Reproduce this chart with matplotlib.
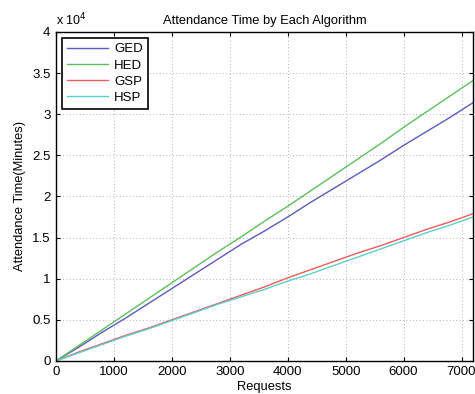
import matplotlib
matplotlib.use('Agg')
import matplotlib.pyplot as plt
from matplotlib.ticker import FuncFormatter

plt.rcParams['font.family'] = ['Liberation Sans', 'DejaVu Sans']

# data (attendance time in minutes)
requests = [0, 400, 800, 1200, 1600, 2000, 2400, 2800, 3200, 3600,
            4000, 4400, 4800, 5200, 5600, 6000, 6400, 6800, 7200]
ged = [0, 1700, 3500, 5200, 7000, 8800, 10600, 12400, 14200, 15800,
       17500, 19300, 21000, 22700, 24400, 26200, 27900, 29600, 31400]
hed = [0, 1900, 3800, 5700, 7600, 9500, 11400, 13300, 15100, 17000,
       18800, 20700, 22600, 24500, 26400, 28400, 30300, 32200, 34100]
gsp = [0, 1100, 2100, 3100, 4000, 5000, 6000, 7000, 8000, 9000,
       10100, 11100, 12100, 13100, 14000, 15000, 16000, 16900, 17900]
hsp = [0, 1000, 2000, 3000, 3900, 4900, 5900, 6900, 7800, 8700,
       9700, 10600, 11600, 12600, 13600, 14600, 15600, 16500, 17500]

series = [('GED', ged, '#5a5abf'), ('HED', hed, '#5cbf5c'),
          ('GSP', gsp, '#ef5a5a'), ('HSP', hsp, '#5ccfcf')]

fig = plt.figure(figsize=(4.75, 3.94), dpi=100)
ax = fig.add_axes([0.118, 0.084, 0.878, 0.835])

for name, vals, col in series:
    ax.plot(requests, vals, color=col, lw=1.0, label=name)

ax.set_xlim(0, 7200)
ax.set_ylim(0, 40000)
ax.set_xticks(range(0, 7001, 1000))
ax.set_yticks(range(0, 40001, 5000))
ax.yaxis.set_major_formatter(FuncFormatter(lambda v, p: '%g' % (v / 1e4)))
ax.tick_params(direction='in', top=True, right=True, labelsize=9.5, length=3, pad=4)
ax.grid(True, linestyle=(0, (1, 3)), color='#999999', lw=0.6)
for s in ax.spines.values():
    s.set_linewidth(1.0)

ax.text(0.0, 1.012, r'x 10$^4$', transform=ax.transAxes, fontsize=9, ha='left', va='bottom')
ax.set_title('Attendance Time by Each Algorithm', fontsize=9.3, pad=6)
ax.set_xlabel('Requests', fontsize=9.3, labelpad=2)
ax.set_ylabel('Attendance Time(Minutes)', fontsize=9.3, labelpad=4)

leg = ax.legend(loc='upper left', fontsize=9.5, fancybox=False, framealpha=1,
                edgecolor='black', handlelength=3.1, labelspacing=0.3,
                handletextpad=0.45, borderaxespad=0.45)
leg.get_frame().set_linewidth(1.2)

fig.savefig('out.png', dpi=100)
